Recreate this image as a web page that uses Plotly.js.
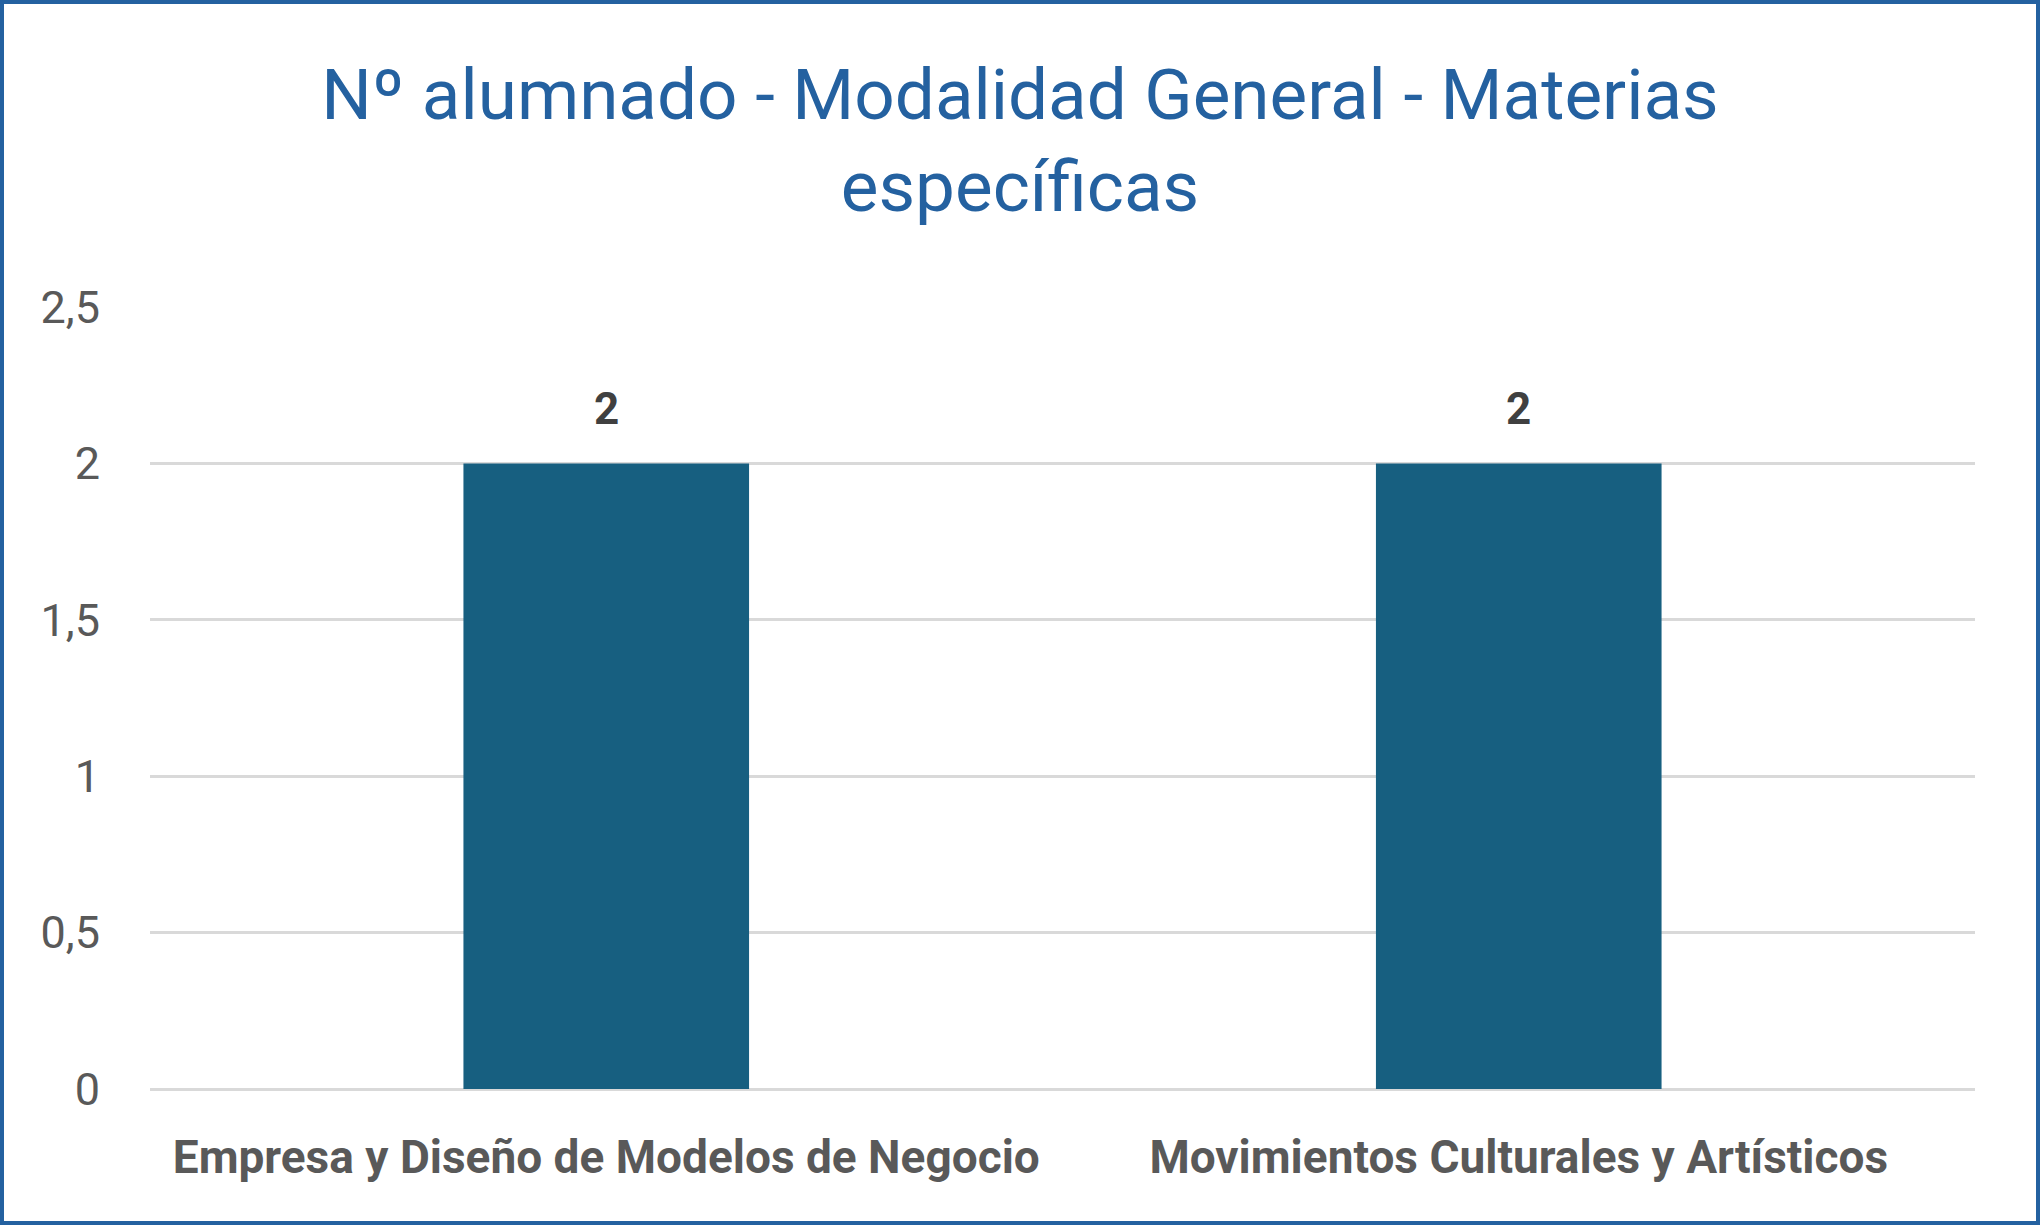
<!DOCTYPE html>
<html>
<head>
<meta charset="utf-8">
<script src="https://cdn.plot.ly/plotly-3.0.1.min.js"></script>
<style>
  html, body { margin: 0; padding: 0; background: #ffffff; }
  #wrap { position: relative; width: 2040px; height: 1225px; }
  #chart { width: 2040px; height: 1225px; }
  #frame { position: absolute; left: 0; top: 0; width: 2040px; height: 1225px; box-sizing: border-box; border: 4px solid #2461A0; pointer-events: none; }
</style>
</head>
<body>
<div id="wrap">
  <div id="chart"></div>
  <div id="frame"></div>
</div>
<script>
const chartTitle = "Nº alumnado - Modalidad General - Materias<br>específicas";
const categories = ["Empresa y Diseño de Modelos de Negocio", "Movimientos Culturales y Artísticos"];
const values = [2, 2];
const yTickValues = [0, 0.5, 1, 1.5, 2, 2.5];

const barColor = "#175F80";
const gray = "#595959";

const trace = {
  type: "bar",
  x: categories,
  y: values,
  marker: { color: barColor },
  hoverinfo: "skip"
};

const annotations = categories.map((c, i) => ({
  x: c,
  y: values[i],
  xref: "x",
  yref: "y",
  text: "<b>" + String(values[i]) + "</b>",
  showarrow: false,
  yanchor: "bottom",
  yshift: 26,
  font: { family: "Roboto, 'Open Sans', sans-serif", size: 44, color: "#404040" }
}));

const layout = {
  width: 2040,
  height: 1225,
  separators: ",.",
  paper_bgcolor: "#ffffff",
  plot_bgcolor: "#ffffff",
  margin: { l: 150, r: 65, t: 307, b: 136, pad: 0 },
  bargap: 0.687,
  showlegend: false,
  title: {
    text: chartTitle,
    x: 0.5,
    xref: "container",
    xanchor: "center",
    y: 1 - 119 / 1225,
    yref: "container",
    yanchor: "middle",
    font: { family: "Roboto, 'Open Sans', sans-serif", size: 71, color: "#2461A0" }
  },
  xaxis: {
    type: "category",
    showgrid: false,
    showline: false,
    zeroline: false,
    ticks: "",
    ticklabelstandoff: 37,
    tickfont: { family: "Roboto, 'Open Sans', sans-serif", size: 46, color: gray, weight: "bold" }
  },
  yaxis: {
    range: [0, 2.5],
    tickvals: yTickValues,
    showgrid: true,
    gridcolor: "#D9D9D9",
    gridwidth: 3,
    zeroline: true,
    zerolinecolor: "#D9D9D9",
    zerolinewidth: 3,
    showline: false,
    ticks: "",
    ticklabelstandoff: 49,
    tickfont: { family: "Roboto, 'Open Sans', sans-serif", size: 45, color: gray }
  },
  annotations: annotations
};

Plotly.newPlot("chart", [trace], layout, { displayModeBar: false, staticPlot: true });
</script>
</body>
</html>
